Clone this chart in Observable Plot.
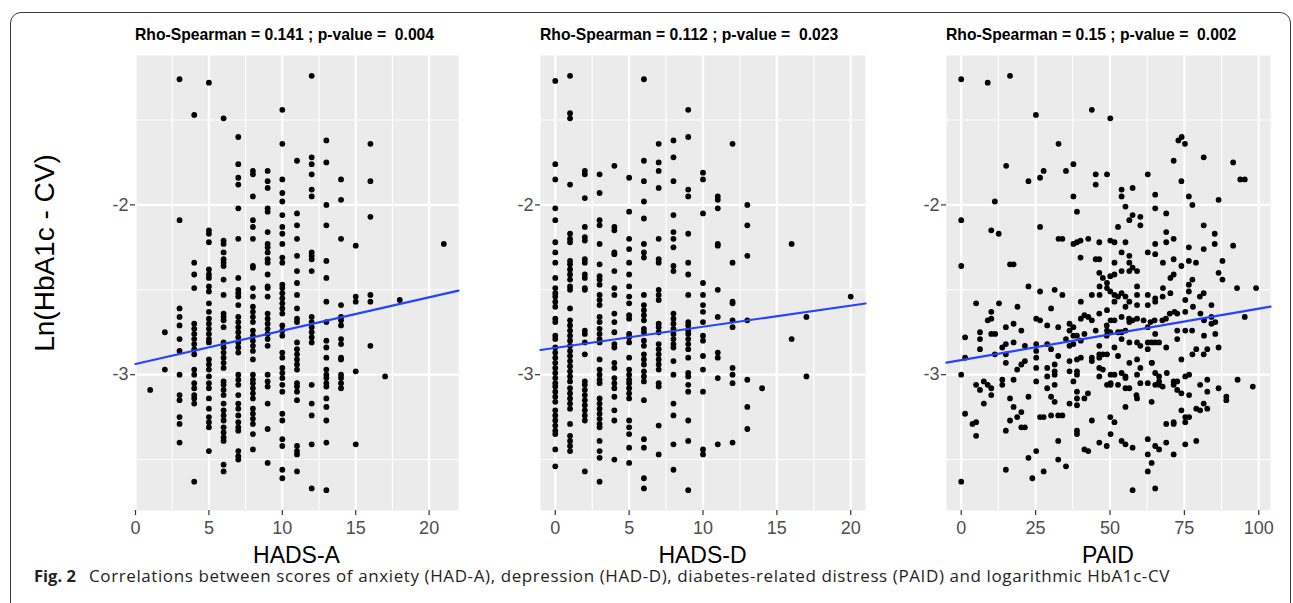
<!DOCTYPE html>
<html><head><meta charset="utf-8">
<script src="https://cdn.jsdelivr.net/npm/d3@7"></script>
<script src="https://cdn.jsdelivr.net/npm/@observablehq/plot@0.6"></script>
<style>
body{margin:0;background:#fff;width:1293px;height:603px;overflow:hidden;position:relative;font-family:"Liberation Sans",Arial,sans-serif;}
.frame{position:absolute;left:10px;top:12px;width:1281px;height:640px;border:1px solid #3a3a3a;border-radius:11px;box-sizing:border-box;}
.plot{position:absolute;top:50px;}
.plot svg{overflow:visible;}
.ptitle{position:absolute;top:27px;font-weight:bold;font-size:15.7px;line-height:15px;white-space:pre;color:#000;}
.xlab{position:absolute;top:547px;font-size:23px;line-height:16px;transform:translateX(-50%);white-space:nowrap;color:#000;}
.ylab{position:absolute;left:45px;top:253px;font-size:28px;line-height:28px;white-space:nowrap;transform:translate(-50%,-50%) rotate(-90deg);color:#000;}
.cap{position:absolute;top:567px;font-family:"Open Sans",sans-serif;font-size:17px;line-height:17px;white-space:pre;color:#231f20;}
.capfig{left:34px;font-weight:700;font-size:16.5px;}
.captext{left:89px;letter-spacing:0.6px;}
</style></head>
<body>
<div class="frame"></div>
<div class="ylab">Ln(HbA1c - CV)</div>
<div id="p1" class="plot" style="left:90px"></div>
<div id="p2" class="plot" style="left:495px"></div>
<div id="p3" class="plot" style="left:901px"></div>
<div class="ptitle" style="left:135px">Rho-Spearman = 0.141 ; p-value =  0.004</div>
<div class="ptitle" style="left:540px">Rho-Spearman = 0.112 ; p-value =  0.023</div>
<div class="ptitle" style="left:946px">Rho-Spearman = 0.15 ; p-value =  0.002</div>
<div class="xlab" style="left:296.5px">HADS-A</div>
<div class="xlab" style="left:702.5px">HADS-D</div>
<div class="xlab" style="left:1108px">PAID</div>
<div class="cap capfig">Fig. 2</div>
<div class="cap captext">Correlations between scores of anxiety (HAD-A), depression (HAD-D), diabetes-related distress (PAID) and logarithmic HbA1c-CV</div>
<script>
// ---- data ----
const panelTitles = ["HADS-A", "HADS-D", "PAID"];
const yTicks = [-3, -2];
const yMinorTicks = [-3.5, -2.5, -1.5];

// HADS-A: [score, list of ln(HbA1c-CV) values]
const hadsACols = [
  [1, [-3.09]],
  [2, [-2.75,-2.97]],
  [3, [-1.26,-2.09,-2.61,-2.66,-2.71,-2.79,-2.86,-3.00,-3.12,-3.15,-3.25,-3.29,-3.40]],
  [4, [-1.47,-2.34,-2.41,-2.49,-2.70,-2.73,-2.76,-2.79,-2.82,-2.85,-2.88,-2.97,-3.00,-3.05,-3.08,-3.12,-3.14,-3.17,-3.63]],
  [5, [-1.28,-2.15,-2.17,-2.22,-2.38,-2.41,-2.43,-2.48,-2.51,-2.58,-2.63,-2.67,-2.70,-2.73,-2.76,-2.79,-2.81,-2.91,-2.94,-2.97,-3.01,-3.05,-3.08,-3.14,-3.20,-3.25,-3.28,-3.31,-3.45]],
  [6, [-1.49,-2.21,-2.23,-2.28,-2.32,-2.34,-2.36,-2.44,-2.53,-2.64,-2.66,-2.68,-2.72,-2.81,-2.84,-2.87,-2.90,-2.93,-2.96,-3.04,-3.06,-3.09,-3.12,-3.17,-3.21,-3.24,-3.27,-3.31,-3.34,-3.37,-3.39,-3.53,-3.57]],
  [7, [-1.60,-1.76,-1.84,-1.88,-2.02,-2.20,-2.43,-2.50,-2.52,-2.54,-2.59,-2.66,-2.69,-2.72,-2.75,-2.78,-2.81,-2.84,-2.87,-3.00,-3.03,-3.06,-3.12,-3.17,-3.20,-3.24,-3.28,-3.31,-3.33,-3.45,-3.48,-3.50]],
  [8, [-1.80,-1.82,-1.95,-2.09,-2.13,-2.20,-2.36,-2.37,-2.49,-2.54,-2.60,-2.63,-2.66,-2.69,-2.74,-2.77,-2.80,-2.83,-2.86,-2.91,-3.00,-3.03,-3.05,-3.08,-3.11,-3.14,-3.20,-3.23,-3.26,-3.29,-3.35,-3.44]],
  [9, [-1.80,-1.86,-1.90,-2.02,-2.04,-2.16,-2.23,-2.25,-2.28,-2.32,-2.34,-2.41,-2.48,-2.49,-2.54,-2.64,-2.67,-2.70,-2.73,-2.76,-2.79,-2.83,-3.00,-3.04,-3.07,-3.17,-3.32,-3.52]],
  [10, [-1.44,-1.64,-1.85,-1.93,-1.98,-2.06,-2.13,-2.17,-2.23,-2.31,-2.34,-2.47,-2.49,-2.52,-2.55,-2.58,-2.61,-2.64,-2.71,-2.74,-2.77,-2.87,-2.90,-2.96,-2.99,-3.02,-3.06,-3.10,-3.23,-3.27,-3.38,-3.42,-3.56,-3.61]],
  [11, [-1.74,-2.05,-2.12,-2.20,-2.30,-2.39,-2.46,-2.53,-2.61,-2.67,-2.69,-2.81,-2.85,-2.88,-2.91,-2.94,-2.97,-3.05,-3.07,-3.10,-3.15,-3.42,-3.45,-3.47,-3.57]],
  [12, [-1.24,-1.72,-1.76,-1.82,-1.91,-1.95,-2.28,-2.30,-2.32,-2.39,-2.66,-2.69,-2.72,-2.75,-2.78,-2.81,-3.06,-3.17,-3.24,-3.41,-3.67]],
  [13, [-1.62,-1.75,-2.00,-2.12,-2.33,-2.43,-2.57,-2.69,-2.80,-2.84,-2.90,-2.97,-3.00,-3.02,-3.05,-3.07,-3.14,-3.19,-3.27,-3.40,-3.68]],
  [14, [-1.85,-1.97,-2.20,-2.59,-2.66,-2.68,-2.71,-2.79,-2.82,-2.90,-2.91,-3.00,-3.02,-3.05,-3.08]],
  [15, [-2.24,-2.54,-2.57,-2.98,-3.41]],
  [16, [-1.64,-1.86,-2.07,-2.53,-2.57,-2.83]],
  [17, [-3.01]],
  [18, [-2.56]],
  [21, [-2.23]]
];

// HADS-D: [score, list of ln(HbA1c-CV) values]
const hadsDCols = [
  [0, [-1.27,-1.76,-1.85,-2.02,-2.09,-2.22,-2.28,-2.34,-2.43,-2.49,-2.52,-2.54,-2.57,-2.60,-2.67,-2.69,-2.77,-2.79,-2.84,-2.87,-2.90,-2.93,-2.96,-2.99,-3.02,-3.05,-3.07,-3.10,-3.13,-3.16,-3.21,-3.24,-3.27,-3.30,-3.33,-3.35,-3.44,-3.54]],
  [1, [-1.24,-1.46,-1.49,-1.88,-2.17,-2.20,-2.22,-2.33,-2.35,-2.38,-2.41,-2.44,-2.48,-2.50,-2.61,-2.68,-2.71,-2.74,-2.77,-2.80,-2.83,-2.86,-2.89,-2.92,-2.95,-2.98,-3.01,-3.04,-3.08,-3.11,-3.14,-3.17,-3.20,-3.29,-3.36,-3.39,-3.42,-3.45]],
  [2, [-1.80,-1.82,-1.96,-2.13,-2.19,-2.21,-2.32,-2.34,-2.41,-2.43,-2.49,-2.50,-2.74,-2.76,-2.81,-2.88,-3.04,-3.06,-3.09,-3.12,-3.15,-3.18,-3.21,-3.24,-3.27,-3.57]],
  [3, [-1.82,-1.93,-2.09,-2.12,-2.23,-2.35,-2.42,-2.44,-2.47,-2.53,-2.56,-2.59,-2.66,-2.69,-2.73,-2.76,-2.79,-2.81,-2.91,-2.97,-3.00,-3.03,-3.05,-3.14,-3.17,-3.20,-3.23,-3.26,-3.29,-3.31,-3.39,-3.45,-3.49,-3.63]],
  [4, [-1.77,-2.13,-2.15,-2.28,-2.29,-2.39,-2.49,-2.53,-2.64,-2.69,-2.75,-2.82,-2.84,-2.93,-2.96,-3.02,-3.05,-3.08,-3.13,-3.21,-3.27,-3.50]],
  [5, [-1.84,-2.04,-2.20,-2.26,-2.34,-2.41,-2.48,-2.54,-2.58,-2.65,-2.67,-2.76,-2.78,-2.81,-2.90,-2.97,-3.00,-3.03,-3.05,-3.08,-3.11,-3.14,-3.27,-3.31,-3.35,-3.43,-3.52]],
  [6, [-1.26,-1.74,-1.86,-1.98,-2.08,-2.23,-2.28,-2.31,-2.53,-2.59,-2.62,-2.65,-2.68,-2.73,-2.75,-2.80,-2.83,-2.88,-2.91,-2.94,-2.98,-3.01,-3.04,-3.15,-3.38,-3.43,-3.61,-3.67]],
  [7, [-1.64,-1.75,-1.80,-1.90,-2.20,-2.32,-2.34,-2.50,-2.53,-2.56,-2.70,-2.72,-2.75,-2.82,-2.85,-2.88,-2.91,-2.94,-2.97,-3.05,-3.07,-3.30,-3.47]],
  [8, [-1.62,-1.72,-1.86,-2.06,-2.16,-2.20,-2.25,-2.36,-2.39,-2.64,-2.67,-2.70,-2.73,-2.76,-2.79,-2.82,-2.84,-2.92,-3.00,-3.17,-3.24,-3.41,-3.56]],
  [9, [-1.44,-1.60,-1.91,-1.95,-2.17,-2.34,-2.41,-2.53,-2.69,-2.71,-2.74,-2.76,-2.79,-2.82,-2.85,-2.90,-2.99,-3.01,-3.06,-3.10,-3.27,-3.39,-3.68]],
  [10, [-1.81,-1.85,-2.05,-2.46,-2.53,-2.59,-2.63,-2.69,-2.77,-2.80,-2.89,-2.97,-3.10,-3.44,-3.47]],
  [11, [-1.95,-1.97,-2.02,-2.23,-2.24,-2.50,-2.66,-2.87,-2.90,-3.02,-3.41]],
  [12, [-1.64,-2.34,-2.57,-2.58,-2.68,-2.72,-2.96,-3.00,-3.05,-3.40]],
  [13, [-2.00,-2.12,-2.30,-2.68,-3.03,-3.19,-3.32]],
  [14, [-3.08]],
  [16, [-2.23,-2.79]],
  [17, [-2.66,-3.01]],
  [20, [-2.54]]
];

// PAID: [score, ln(HbA1c-CV)]
const paidPoints = [
  [0,-1.26],[8.9,-1.28],[16.4,-1.24],[25.1,-1.47],[43.9,-1.44],[50.1,-1.49],[32.7,-1.64],[15.1,-1.77],[37.7,-1.76],[35.2,-1.80],
  [27.7,-1.80],[26.5,-1.84],[22.6,-1.86],[45.2,-1.82],[45.2,-1.88],[49.0,-1.82],[62.7,-1.82],[73.0,-1.62],[74.1,-1.60],[75.2,-1.64],
  [71.4,-1.74],[81.5,-1.72],[91.4,-1.75],[93.8,-1.85],[95.3,-1.85],[74.0,-1.86],[11.3,-1.98],[37.7,-1.95],[53.9,-1.91],[53.9,-1.95],
  [57.6,-1.90],[65.2,-1.94],[65.2,-2.02],[55.2,-2.01],[76.5,-1.95],[77.7,-2.00],[86.5,-1.97],[0,-2.09],[10.1,-2.15],[12.6,-2.17],
  [26.5,-2.13],[38.9,-2.04],[52.7,-2.13],[56.5,-2.09],[57.6,-2.06],[60.2,-2.07],[60.2,-2.12],[68.9,-2.05],[68.9,-2.16],[81.5,-2.12],
  [85.2,-2.17],[32.7,-2.20],[34.0,-2.20],[37.7,-2.23],[38.9,-2.22],[40.1,-2.21],[42.7,-2.20],[46.4,-2.22],[50.1,-2.21],[51.5,-2.22],
  [55.2,-2.22],[53.9,-2.28],[56.5,-2.30],[62.7,-2.28],[65.2,-2.23],[65.2,-2.29],[68.9,-2.22],[71.4,-2.20],[76.5,-2.25],[81.5,-2.26],
  [85.2,-2.23],[91.4,-2.24],[0,-2.36],[16.4,-2.35],[17.6,-2.35],[40.1,-2.31],[45.2,-2.32],[46.4,-2.32],[51.5,-2.34],[53.9,-2.39],
  [56.5,-2.34],[56.5,-2.39],[57.6,-2.37],[59.1,-2.39],[67.8,-2.34],[71.4,-2.32],[74.0,-2.36],[76.5,-2.33],[78.9,-2.34],[87.8,-2.33],
  [86.5,-2.40],[46.4,-2.40],[47.6,-2.43],[50.1,-2.42],[51.5,-2.41],[70.3,-2.43],[71.4,-2.41],[77.7,-2.44],[87.8,-2.44],
  [49.0,-2.46],[76.5,-2.47],[46.5,-2.48],[49.0,-2.49],[50.1,-2.51],[51.5,-2.53],[52.7,-2.54],[53.9,-2.52],[51.5,-2.57],[55.2,-2.54],
  [56.5,-2.57],[59.1,-2.48],[59.1,-2.53],[59.1,-2.59],[62.7,-2.53],[62.7,-2.59],[65.2,-2.55],[65.2,-2.57],[67.8,-2.49],[70.3,-2.52],
  [67.7,-2.54],[76.5,-2.51],[75.3,-2.56],[80.2,-2.54],[81.5,-2.52],[84.1,-2.59],[92.7,-2.49],[99.1,-2.49],[22.6,-2.48],[26.5,-2.51],
  [31.4,-2.50],[34.0,-2.53],[40.2,-2.57],[43.9,-2.53],[46.5,-2.53],
  [5.0,-2.58],[12.7,-2.58],[18.9,-2.60],[10.1,-2.63],[8.9,-2.68],[10.1,-2.67],[6.3,-2.75],[10.1,-2.76],[11.4,-2.76],[1.3,-2.78],
  [6.3,-2.79],[15.0,-2.72],[17.6,-2.70],[20.2,-2.74],[6.3,-2.85],[11.3,-2.88],[13.8,-2.84],[15.0,-2.82],[17.6,-2.81],[15.0,-2.88],
  [1.3,-2.90],[0,-3.00],[5.0,-3.06],[6.3,-3.09],[7.6,-3.04],[8.9,-3.06],[10.1,-3.08],[10.1,-3.12],[7.6,-3.17],[13.8,-3.03],
  [13.8,-3.06],[15.0,-2.93],[17.6,-3.03],[18.8,-2.97],[20.2,-2.94],[21.4,-2.92],[21.4,-2.83],[25.2,-2.67],[26.5,-2.68],[28.9,-2.71],
  [30.2,-2.61],[32.6,-2.72],[25.2,-2.82],[25.2,-2.86],[25.2,-2.90],[28.9,-2.82],[30.2,-2.85],[32.6,-2.89],[31.4,-2.94],[31.4,-2.98],
  [31.4,-3.00],[28.9,-2.96],[28.9,-3.01],[25.2,-2.96],[25.2,-3.04],[22.6,-3.13],[16.4,-3.14],[17.6,-3.19],[18.8,-3.25],[20.2,-3.22],
  [20.2,-3.31],[21.4,-3.31],[16.4,-3.27],[15.0,-3.33],[5.0,-3.36],[3.8,-3.29],[5.0,-3.28],[1.3,-3.23],[30.2,-3.13],[31.4,-3.06],
  [28.9,-3.08],[31.4,-3.16],[26.5,-3.25],[27.7,-3.25],[30.2,-3.24],[32.6,-3.24],[34.0,-3.24],[32.6,-3.39],[32.6,-3.50],[35.2,-3.54],
  [25.2,-3.45],[22.6,-3.49],[27.7,-3.57],[23.9,-3.61],[15.0,-3.56],[0,-3.63],
  [36.4,-2.70],[37.7,-2.72],[36.4,-2.74],[35.2,-2.79],[37.7,-2.77],[38.9,-2.77],[37.7,-2.82],[36.4,-2.83],[40.2,-2.80],[41.4,-2.76],
  [40.2,-2.67],[41.4,-2.65],[42.7,-2.66],[43.9,-2.68],[46.4,-2.64],[49.0,-2.62],[48.9,-2.71],[50.2,-2.68],[51.5,-2.68],[53.9,-2.66],
  [55.2,-2.60],[56.4,-2.67],[57.6,-2.68],[59.1,-2.67],[45.2,-2.74],[49.0,-2.74],[48.9,-2.77],[50.1,-2.75],[52.7,-2.75],[53.9,-2.75],
  [55.2,-2.74],[56.5,-2.69],[61.3,-2.68],[62.7,-2.72],[63.6,-2.69],[65.0,-2.68],[67.6,-2.68],[68.8,-2.67],[70.1,-2.64],[71.7,-2.63],
  [72.6,-2.64],[75.3,-2.63],[77.9,-2.60],[80.4,-2.64],[81.6,-2.68],[84.1,-2.66],[85.4,-2.69],[84.1,-2.70],[85.4,-2.76],[81.6,-2.77],
  [72.6,-2.74],[75.3,-2.74],[77.6,-2.74],[72.6,-2.79],[65.2,-2.76],[64.0,-2.81],[65.2,-2.81],[66.5,-2.81],[62.7,-2.81],[60.2,-2.83],
  [59.1,-2.81],[56.5,-2.81],[53.9,-2.79],[51.5,-2.84],[46.4,-2.83],[47.6,-2.88],[46.4,-2.88],[49.0,-2.88],[43.9,-2.90],[43.9,-2.92],
  [38.9,-2.91],[36.4,-2.92],[40.2,-2.90],[36.4,-2.98],[38.9,-2.98],[38.9,-3.00],[37.7,-3.04],[46.4,-2.90],[46.4,-2.96],[47.6,-2.97],
  [46.4,-3.01],[52.7,-2.89],[50.2,-3.00],[51.5,-3.00],[53.9,-2.99],[55.2,-3.01],[55.2,-3.02],[56.5,-2.93],[59.1,-2.91],[59.1,-3.00],
  [60.2,-2.96],[62.7,-2.85],[62.7,-3.05],[64.1,-2.93],[65.2,-2.99],[66.5,-3.01],[66.5,-3.04],[68.9,-2.84],[69.1,-2.99],[71.4,-3.04],
  [72.6,-3.04],[74.0,-2.91],[75.3,-3.01],[76.6,-3.00],[77.7,-2.88],[79.0,-2.85],[80.3,-3.06],[81.5,-2.88],[82.7,-2.85],[82.7,-3.03],
  [86.5,-2.84],[92.9,-3.03],[98.0,-3.07],[95.3,-2.66],[86.5,-3.08],[89.1,-3.13],[89.1,-3.15],[82.7,-3.10],[81.5,-3.17],[79.0,-3.20],
  [80.3,-3.21],[82.7,-3.20],[76.6,-3.25],[75.3,-3.25],[75.3,-3.28],[74.0,-3.21],[72.6,-3.09],[71.4,-3.06],[74.0,-3.11],[76.6,-3.12],
  [68.9,-3.29],[71.4,-3.28],[71.4,-3.29],[67.7,-3.07],[66.5,-3.06],[65.2,-3.06],[64.0,-3.16],[64.0,-2.93],[60.2,-3.05],[58.9,-3.12],
  [59.1,-3.14],[55.2,-3.08],[56.5,-3.08],[52.7,-3.06],[50.2,-3.05],[50.2,-3.06],[49.0,-3.06],[55.2,-3.19],[38.9,-3.10],[38.9,-3.14],
  [41.4,-3.14],[42.6,-3.11],[36.4,-3.17],[38.9,-3.18],[43.9,-3.27],[50.1,-3.25],[51.5,-3.28],[50.2,-3.35],[38.9,-3.33],[38.9,-3.35],
  [41.4,-3.44],[42.7,-3.45],[46.4,-3.40],[48.9,-3.42],[53.9,-3.39],[55.2,-3.41],[57.6,-3.43],[62.7,-3.38],[65.2,-3.42],[66.5,-3.44],
  [68.9,-3.40],[71.4,-3.47],[75.3,-3.41],[79.0,-3.39],[62.7,-3.47],[64.0,-3.52],[62.7,-3.57],[57.6,-3.68],[65.2,-3.67]
];

// fitted lm lines (intercept, slope)
const fitIntercepts = [-2.937, -2.842, -2.914];
const fitSlopes = [0.01964, 0.01245, 0.00303];

// axis ticks
const xTicksA = [0, 5, 10, 15, 20];
const xMinorA = [2.5, 7.5, 12.5, 17.5];
const xTicksD = [0, 5, 10, 15, 20];
const xMinorD = [2.5, 7.5, 12.5, 17.5];
const xTicksP = [0, 25, 50, 75, 100];
const xMinorP = [12.5, 37.5, 62.5, 87.5];

// ---- build ----
const yDomain = [-3.80, -1.12];
const panelWidths = [323, 325, 324];
const colsToRows = cols => cols.flatMap(([x, ys]) => ys.map(y => ({x, y})));
const pairsToRows = ps => ps.map(([x, y]) => ({x, y}));

function panel(rows, xDomain, xMajor, xMinor, k, width) {
  const fit = xDomain.map(x => ({x, y: fitIntercepts[k] + fitSlopes[k] * x}));
  return Plot.plot({
    width, height: 520,
    marginLeft: 45, marginRight: width - 45 - panelWidths[k], marginTop: 5, marginBottom: 60,
    x: {domain: xDomain, nice: false},
    y: {domain: yDomain, nice: false},
    style: {background: "transparent", fontFamily: "'Liberation Sans', Arial, sans-serif", overflow: "visible"},
    marks: [
      Plot.frame({fill: "#ebebeb", stroke: "none"}),
      Plot.ruleX(xMinor, {stroke: "#ffffff", strokeWidth: 1.1}),
      Plot.ruleY(yMinorTicks, {stroke: "#ffffff", strokeWidth: 1.1}),
      Plot.ruleX(xMajor, {stroke: "#ffffff", strokeWidth: 2.2}),
      Plot.ruleY(yTicks, {stroke: "#ffffff", strokeWidth: 2.2}),
      Plot.dot(rows, {x: "x", y: "y", r: 2.9, fill: "#000", stroke: "none"}),
      Plot.line(fit, {x: "x", y: "y", stroke: "#2244ff", strokeWidth: 2.2}),
      Plot.axisX({ticks: xMajor, tickSize: 5, tickPadding: 6, fontSize: 18, fill: "#4d4d4d", stroke: "#333", strokeWidth: 1.2, label: null, tickFormat: d => String(d)}),
      Plot.axisY({ticks: yTicks, tickSize: 5, tickPadding: 2, fontSize: 18, fill: "#4d4d4d", stroke: "#333", strokeWidth: 1.2, label: null, tickFormat: d => String(d)})
    ]
  });
}

document.getElementById("p1").append(panel(colsToRows(hadsACols), [0, 22], xTicksA, xMinorA, 0, 373));
document.getElementById("p2").append(panel(colsToRows(hadsDCols), [-1, 21], xTicksD, xMinorD, 1, 375));
document.getElementById("p3").append(panel(pairsToRows(paidPoints), [-4.95, 103.95], xTicksP, xMinorP, 2, 374));
</script>
</body></html>
